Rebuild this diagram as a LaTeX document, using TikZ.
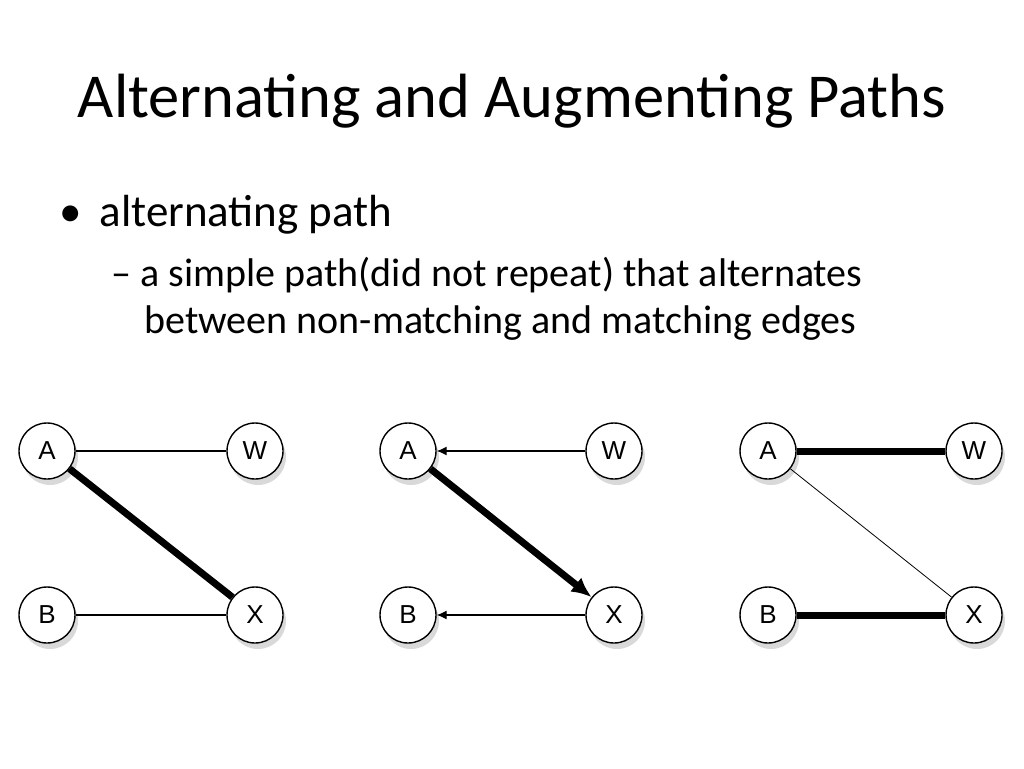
\documentclass[tikz,border=0pt]{standalone}
\usepackage{fontspec}
\setmainfont{Carlito}
\newfontfamily\nodefont{Liberation Sans}
\usetikzlibrary{shadows,arrows.meta}
\begin{document}
\begin{tikzpicture}[x=1pt,y=-1pt,
  vert/.style={circle,draw=black,line width=1.4pt,fill=white,minimum size=56pt,inner sep=0pt,
    font=\nodefont\fontsize{26}{26}\selectfont,
    drop shadow={shadow xshift=3pt,shadow yshift=-6pt,opacity=0.3,fill=black!50}},
  thin/.style={line width=1.1pt},
  thick/.style={line width=7pt},
  arr/.style={-{Latex[length=10pt,width=9pt]}},
  bigarr/.style={-{Latex[length=20pt,width=18pt]}}]
\useasboundingbox (0,0) rectangle (1024,768);
\node[anchor=base, font=\fontsize{62.5}{66}\selectfont] (title) at (512,117) {Alternating and Augmenting Paths};
\node[anchor=base west, font=\fontsize{45}{50}\selectfont] (bul) at (56,226) {\textbullet};
\node[anchor=base west, font=\fontsize{45}{50}\selectfont] (b1) at (96,226) {alternating path};
\node[anchor=base west, font=\fontsize{40}{44}\selectfont] (b2) at (108,286) {--\ a simple path(did not repeat) that alternates};
\node[anchor=base west, font=\fontsize{40}{44}\selectfont] (b3) at (141,333) {between non-matching and matching edges};
% graph 1
\node[vert] (A1) at (47,451) {A};
\node[vert] (W1) at (255,451) {W};
\node[vert] (B1) at (47,615) {B};
\node[vert] (X1) at (255,615) {X};
\draw[thin] (A1) -- (W1);
\draw[thin] (B1) -- (X1);
\draw[thick] (A1) -- (X1);
% graph 2
\node[vert] (A2) at (408,451) {A};
\node[vert] (W2) at (614,451) {W};
\node[vert] (B2) at (408,615) {B};
\node[vert] (X2) at (614,615) {X};
\draw[thin,arr] (W2) -- (A2);
\draw[thin,arr] (X2) -- (B2);
\draw[thick,bigarr] (A2) -- (X2);
% graph 3
\node[vert] (A3) at (768,451) {A};
\node[vert] (W3) at (974,451) {W};
\node[vert] (B3) at (768,615) {B};
\node[vert] (X3) at (974,615) {X};
\draw[thick] (A3) -- (W3);
\draw[thick] (B3) -- (X3);
\draw[line width=0.8pt] (A3) -- (X3);
\end{tikzpicture}
\end{document}
